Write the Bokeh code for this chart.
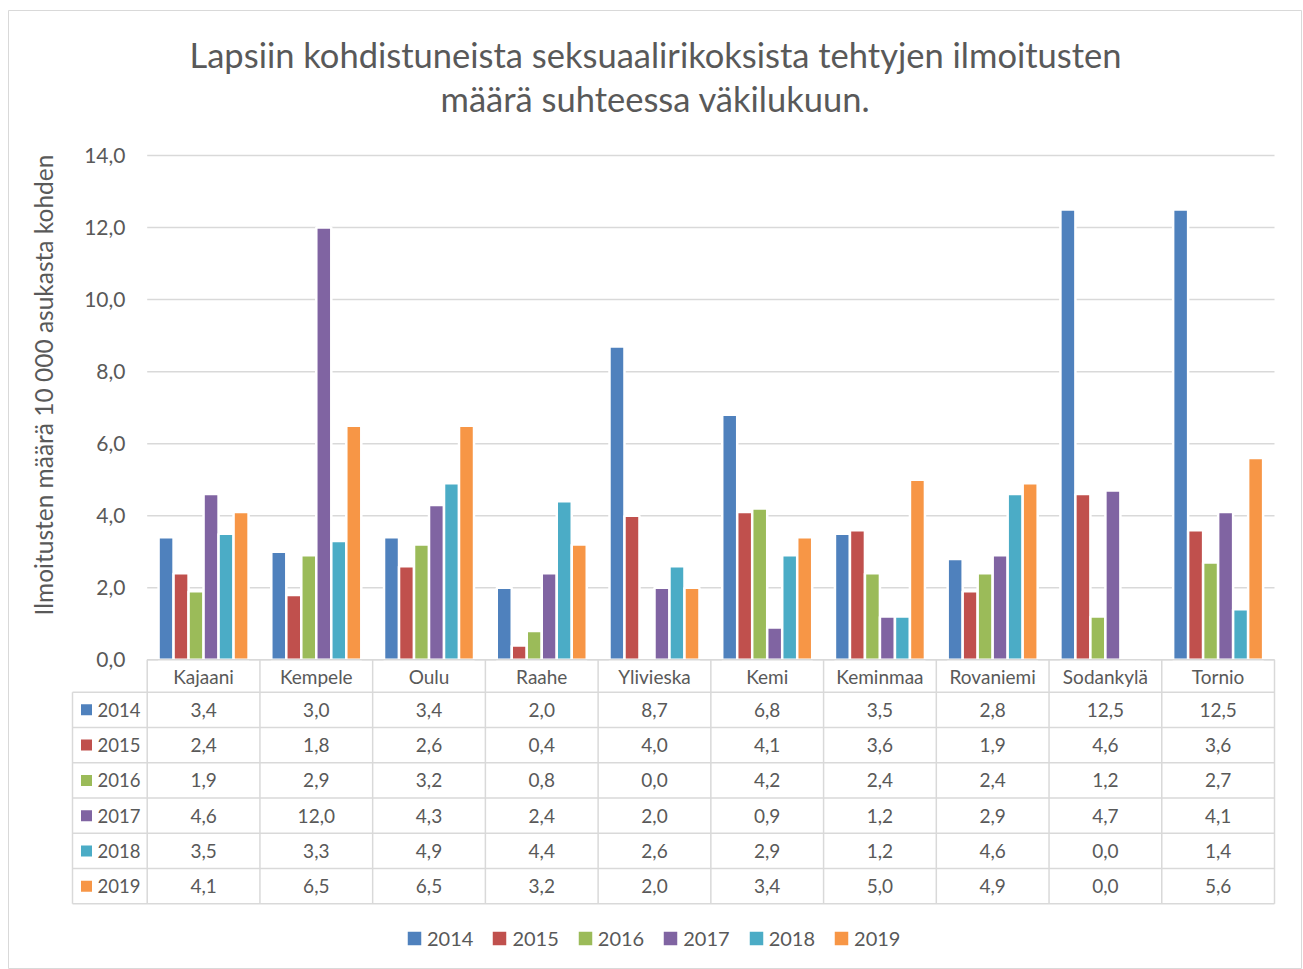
from bokeh.plotting import figure
from bokeh.models import Range1d, Legend, LegendItem
from bokeh.core.properties import value
from bokeh.embed import file_html
from bokeh.resources import INLINE
import numpy as np

# ---------------- data ----------------
cities = ["Kajaani", "Kempele", "Oulu", "Raahe", "Ylivieska", "Kemi",
          "Keminmaa", "Rovaniemi", "Sodankylä", "Tornio"]
years = ["2014", "2015", "2016", "2017", "2018", "2019"]
v2014 = [3.4, 3.0, 3.4, 2.0, 8.7, 6.8, 3.5, 2.8, 12.5, 12.5]
v2015 = [2.4, 1.8, 2.6, 0.4, 4.0, 4.1, 3.6, 1.9, 4.6, 3.6]
v2016 = [1.9, 2.9, 3.2, 0.8, 0.0, 4.2, 2.4, 2.4, 1.2, 2.7]
v2017 = [4.6, 12.0, 4.3, 2.4, 2.0, 0.9, 1.2, 2.9, 4.7, 4.1]
v2018 = [3.5, 3.3, 4.9, 4.4, 2.6, 2.9, 1.2, 4.6, 0.0, 1.4]
v2019 = [4.1, 6.5, 6.5, 3.2, 2.0, 3.4, 5.0, 4.9, 0.0, 5.6]
y_ticks = [0, 2, 4, 6, 8, 10, 12, 14]
y_tick_labels = ["0,0", "2,0", "4,0", "6,0", "8,0", "10,0", "12,0", "14,0"]
title_lines = ["Lapsiin kohdistuneista seksuaalirikoksista tehtyjen ilmoitusten",
               "määrä suhteessa väkilukuun."]
y_label = "Ilmoitusten määrä 10 000 asukasta kohden"

series = [v2014, v2015, v2016, v2017, v2018, v2019]
colors = ["#4F81BD", "#C0504D", "#9BBB59", "#8064A2", "#4BACC6", "#F79646"]

# ---------------- layout geometry (page pixels) ----------------
W, H = 1302, 969
PAGE_L, PAGE_T = 8, 10          # frame top-left on the page
PAGE_R, PAGE_B = W, H
X0, CW = 146.7, 112.73          # page x of category 0 start, px per category
Y0, YU = 659.3, 36.02           # page y of value 0, px per unit


def px2x(px):
    return (px - X0) / CW


def py2y(py):
    return (Y0 - py) / YU


FONT_NAME = "Lato"
FONT = value(FONT_NAME)
TXT = "#595959"
GRID = "#d9d9d9"

p = figure(width=W, height=H,
           x_range=Range1d(px2x(PAGE_L), px2x(PAGE_R)),
           y_range=Range1d(py2y(PAGE_B), py2y(PAGE_T)),
           x_axis_type=None, y_axis_type=None, title=None,
           output_backend="svg", toolbar_location=None,
           min_border_left=PAGE_L, min_border_top=PAGE_T,
           min_border_right=0, min_border_bottom=0,
           outline_line_color=GRID, outline_line_width=1,
           background_fill_color="white", border_fill_color="white")

n = len(cities)
ncat = list(range(n))

# gridlines
p.segment(x0=[0] * len(y_ticks), x1=[n] * len(y_ticks), y0=y_ticks, y1=y_ticks,
          line_color=GRID, line_width=1.5)

# bars
BAR_STEP = 15 / CW
renderers = []
for j, (yr, vals, c) in enumerate(zip(years, series, colors)):
    xs = [i + 0.5 + (j - 2.5) * BAR_STEP for i in ncat]
    r = p.vbar(x=xs, top=vals, bottom=0, width=BAR_STEP,
               fill_color=c, line_color="white", line_width=2.5)
    renderers.append(r)

# ---------------- data table ----------------
T_LEFT = px2x(72)
HDR_BOT = 691.7
ROW_H = 35.27
row_lines_py = [HDR_BOT + ROW_H * k for k in range(len(years) + 1)]
T_BOT = py2y(row_lines_py[-1])

hx0 = [0] + [T_LEFT] * len(row_lines_py)
hx1 = [n] * (1 + len(row_lines_py))
hy = [0] + [py2y(v) for v in row_lines_py]
p.segment(x0=hx0, x1=hx1, y0=hy, y1=hy, line_color=GRID, line_width=1.5)

vx = [T_LEFT] + [float(i) for i in range(n + 1)]
vy0 = [py2y(HDR_BOT)] + [0] * (n + 1)
vy1 = [T_BOT] * (n + 2)
p.segment(x0=vx, x1=vx, y0=vy0, y1=vy1, line_color=GRID, line_width=1.5)

TABLE_FS = "19px"
# header names
p.text(x=[i + 0.5 for i in ncat], y=[py2y((Y0 + HDR_BOT) / 2)] * n, text=cities,
       text_font=FONT, text_font_size=TABLE_FS, text_color=TXT,
       text_align="center", text_baseline="middle")

row_centers = [py2y(HDR_BOT + ROW_H * (k + 0.5)) for k in range(len(years))]
for k, (yr, vals, c) in enumerate(zip(years, series, colors)):
    labels = [f"{v:.1f}".replace(".", ",") for v in vals]
    p.text(x=[i + 0.5 for i in ncat], y=[row_centers[k]] * n, text=labels,
           text_font=FONT, text_font_size=TABLE_FS, text_color=TXT,
           text_align="center", text_baseline="middle")
    p.scatter(x=[px2x(86)], y=[row_centers[k]], marker="square", size=11,
              fill_color=c, line_color=None)
    p.text(x=[px2x(97)], y=[row_centers[k]], text=[yr],
           text_font=FONT, text_font_size="18.5px", text_color=TXT,
           text_align="left", text_baseline="middle")

# y tick labels
p.text(x=[px2x(125)] * len(y_ticks), y=y_ticks, text=y_tick_labels,
       text_font=FONT, text_font_size="21px", text_color=TXT,
       text_align="right", text_baseline="middle")

# y axis label
p.text(x=[px2x(43)], y=[py2y(384.5)], text=[y_label], angle=np.pi / 2,
       text_font=FONT, text_font_size="24.5px", text_color=TXT,
       text_align="center", text_baseline="middle")

# title
p.text(x=[px2x(655)] * 2, y=[py2y(54), py2y(98)], text=title_lines,
       text_font=FONT, text_font_size="34.5px", text_color=TXT,
       text_align="center", text_baseline="middle")

# legend
legend = Legend(items=[LegendItem(label=yr, renderers=[r]) for yr, r in zip(years, renderers)],
                orientation="horizontal", location=(396, 19),
                glyph_width=20, glyph_height=20, label_standoff=3, spacing=16,
                padding=0, margin=0, label_height=20,
                label_text_font=FONT_NAME, label_text_font_size="20px", label_text_color=TXT,
                background_fill_alpha=0, border_line_alpha=0)
p.add_layout(legend)

open("out.html", "w").write(file_html(p, INLINE))
